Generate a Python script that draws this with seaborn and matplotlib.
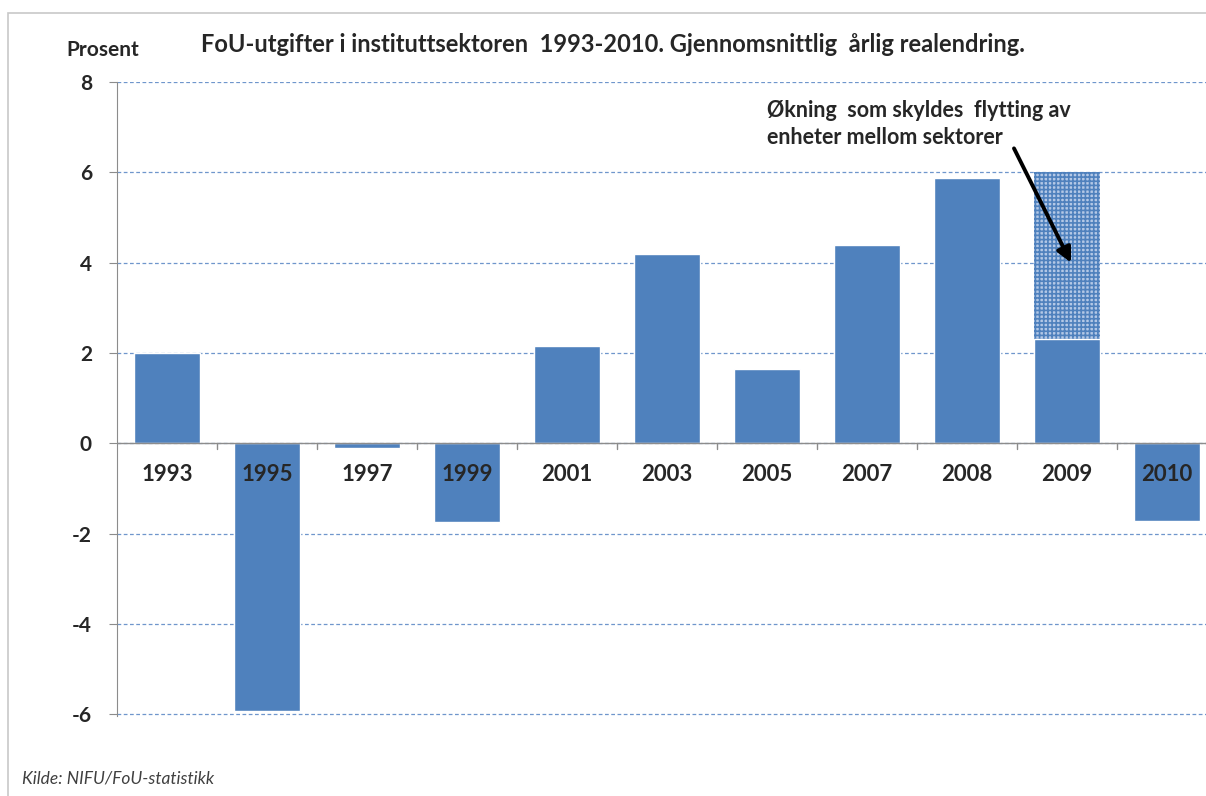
import pandas as pd
import seaborn as sns
import matplotlib.pyplot as plt
from matplotlib.patches import Rectangle

years = ['1993', '1995', '1997', '1999', '2001', '2003', '2005', '2007', '2008', '2009', '2010']
change = [2.0, -5.93, -0.1, -1.75, 2.15, 4.18, 1.64, 4.4, 5.88, 2.3, -1.73]
# extra growth from units moved between sectors (only 2009)
moved = [0, 0, 0, 0, 0, 0, 0, 0, 0, 3.7, 0]

df = pd.DataFrame({'year': years, 'change': change, 'moved': moved})
df['total'] = df['change'] + df['moved']

sns.set_style('white')
plt.rcParams['font.family'] = ['Lato', 'DejaVu Sans']
plt.rcParams['hatch.linewidth'] = 1.2
plt.rcParams['axes.unicode_minus'] = False

blue = '#4f81bd'
fig = plt.figure(figsize=(12.06, 7.96), dpi=100)
ax = fig.add_axes([117 / 1206, 1 - 716 / 796, 1100 / 1206, 634 / 796])

# hatched part first, solid bars drawn on top
tot = df.copy()
tot.loc[tot['moved'] == 0, 'total'] = 0
sns.barplot(data=tot, x='year', y='total', color='#b4c8e6', width=0.66,
            saturation=1, ax=ax, zorder=2)
for p in ax.patches:
    p.set_hatch('++++')
    p.set_edgecolor(blue)
    p.set_linewidth(0)
sns.barplot(data=df, x='year', y='change', color=blue, width=0.66,
            saturation=1, ax=ax, zorder=3)

ax.set_ylim(-6.04, 8)
ax.set_xlim(-0.5, 10.5)
ax.set_yticks(range(-6, 9, 2))
ax.yaxis.grid(True, linestyle=(0, (3, 2)), color='#6f96cc', linewidth=0.9)
ax.set_axisbelow(True)
for s in ['top', 'right', 'bottom']:
    ax.spines[s].set_visible(False)
ax.spines['left'].set_color('#8c8c8c')
ax.axhline(0, color='#8c8c8c', linewidth=1, zorder=4)

ax.tick_params(axis='y', left=True, length=6, color='#8c8c8c', labelsize=15,
               pad=12)
for t in ax.get_yticklabels():
    t.set_fontweight('bold')
ax.set_xticks([])
ax.set_xlabel('')
ax.set_ylabel('')

# category labels sitting under the zero line, boundary ticks
for i, y in enumerate(years):
    ax.text(i, -0.7, y, ha='center', va='center', fontsize=16,
            fontweight='bold', zorder=5)
for i in range(len(years) - 1):
    ax.plot([i + 0.5, i + 0.5], [0, -0.12], color='#8c8c8c', linewidth=1,
            zorder=4, clip_on=False)

fig.text(103 / 1206, 1 - 50 / 796, 'Prosent', ha='center', va='center',
         fontsize=15, fontweight='bold')
fig.text(613 / 1206, 1 - 45 / 796,
         'FoU-utgifter i instituttsektoren  1993-2010. Gjennomsnittlig  årlig realendring.',
         ha='center', va='center', fontsize=17, fontweight='bold')

ax.text(6.0, 7.06, 'Økning  som skyldes  flytting av\nenheter mellom sektorer',
        ha='left', va='center', fontsize=15.5, fontweight='bold',
        linespacing=1.35, zorder=6)
ax.annotate('', xy=(9.04, 4.0), xytext=(8.47, 6.53),
            arrowprops=dict(arrowstyle='-|>', color='black', lw=2.8,
                            mutation_scale=22, shrinkA=0, shrinkB=0),
            zorder=6)

fig.text(22 / 1206, 1 - 779 / 796, 'Kilde: NIFU/FoU-statistikk', ha='left',
         va='center', fontsize=12.5, style='italic', color='#404040')

fig.patches.append(Rectangle((8 / 1206, -0.01), 1.1, 1 - 13 / 796 + 0.01,
                             transform=fig.transFigure, fill=False,
                             edgecolor='#c8c8c8', linewidth=1.2))

fig.savefig('out.png', dpi=100)
